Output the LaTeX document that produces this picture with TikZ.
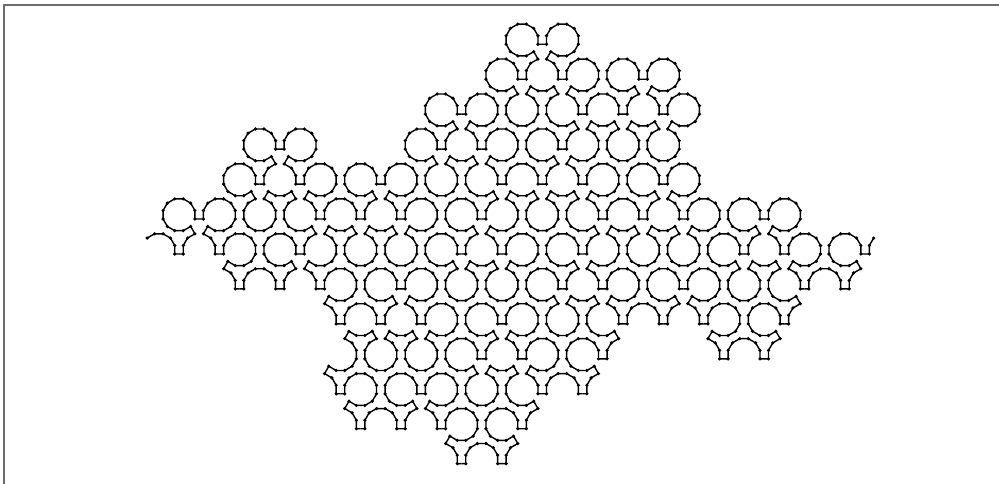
\documentclass[tikz,border=0pt]{standalone}
\newcount\Cq \newcount\Cr \newcount\Cd \newcount\Cn \newcount\Guard
\newif\ifgoon
\makeatletter
% Lattice sites that carry a cusp (row r: q values)
\newcommand\setrow[2]{\@for\tmpq:=#2\do{\expandafter\gdef\csname U:\tmpq:#1\endcsname{}}}
\makeatother
% U: is the bottom cusp at the site; T: are the two arm cusps below the site
\newcommand\Utest[2]{\ifcsname U:\number\numexpr#1\relax:\number\numexpr#2\relax\endcsname 1\else 0\fi}
\newcommand\Ttest[2]{\ifcsname U:\number\numexpr#1\relax:\number\numexpr#2\relax\endcsname 1\else\ifcsname G:\number\numexpr#1\relax:\number\numexpr#2\relax\endcsname 1\else 0\fi\fi}
\expandafter\gdef\csname G:7:9\endcsname{}
\setrow{0}{18}
\setrow{1}{17,19,23}
\setrow{2}{14,20,22,24}
\setrow{3}{5,13,15,19}
\setrow{4}{4,6,10,16,18,20,24}
\setrow{5}{1,7,9,11,15,21,23,25,29}
\setrow{6}{0,2,6,14,16,20,28,30,34}
\setrow{7}{3,5,7,11,19,21,25,31,33}
\setrow{8}{8,10,12,16,22,24,26,30}
\setrow{9}{15,17,21,27,29}
\setrow{10}{8,12,18,20}
\setrow{11}{9,11,13,17}
\setrow{12}{14,16}
\def\edgelen{8.53}
\def\halflen{4.265}
\def\dotr{1.8}
\newcommand\tipxy{%
  \pgfmathsetmacro\tx{179+20.18*\the\Cq+(\the\Cd==1?13.78:(\the\Cd==2?-13.78:0))}%
  \pgfmathsetmacro\ty{484-(254+34.95*(\the\Cr-6))+(\the\Cd==0?0:23.88)}%
}
\newcommand\pickn{%
  \ifcase\Cd
    \ifnum\Ttest{\Cq+1}{\Cr-1}=1 \Cn=2 \else\ifnum\Utest{\Cq+2}{\Cr}=1 \Cn=6 \else \Cn=10 \fi\fi
  \or
    \ifnum\Ttest{\Cq-1}{\Cr-1}=1 \Cn=2 \else\ifnum\Ttest{\Cq}{\Cr-2}=1 \Cn=6 \else \Cn=10 \fi\fi
  \or
    \ifnum\Utest{\Cq}{\Cr}=1 \Cn=2 \else\ifnum\Ttest{\Cq-2}{\Cr}=1 \Cn=6 \else \Cn=10 \fi\fi
  \fi
}
\newcommand\moveon{%
  \ifnum\Cn=2
    \ifnum\Cd=2 \Cd=0 \else \advance\Cd by 1 \fi
  \else\ifnum\Cn=6
    \ifcase\Cd \advance\Cq by 2
    \or \advance\Cq by -1 \advance\Cr by -1
    \or \advance\Cq by -1 \advance\Cr by 1
    \fi
  \else
    \ifcase\Cd \advance\Cq by 1 \advance\Cr by 1 \Cd=2
    \or \advance\Cq by 1 \advance\Cr by -1 \Cd=0
    \or \advance\Cq by -2 \Cd=1
    \fi
  \fi\fi
}
\newcommand\onearc{%
  \tipxy\pickn
  \edef\dd{\number\numexpr\Cd*120\relax}%
  \edef\nn{\number\Cn}%
  \draw[curve] (\tx,\ty) -- ++(\dd:\halflen) coordinate (vs)
     \foreach \j in {0,...,\nn}{ -- ++({\dd+90-30*\j}:\edgelen) coordinate (v\j) }
     -- ++({\dd+180-30*\nn}:\halflen);
  \fill[vertex] (vs) circle[radius=\dotr];
  \foreach \j in {0,...,\nn}{\fill[vertex] (v\j) circle[radius=\dotr];}
  \moveon
  \advance\Guard by 1
  \ifnum\Guard>600 \goonfalse\fi
  \ifnum\Cq=34 \ifnum\Cr=6 \ifnum\Cd=0 \goonfalse\fi\fi\fi
}
\def\walk{\onearc\ifgoon\expandafter\walk\fi}
\begin{document}
\begin{tikzpicture}[x=1pt,y=1pt,line join=round,
  curve/.style={draw=black,line width=1.4pt},
  vertex/.style={fill=black},
  frameline/.style={draw=black!58,line width=1.7pt}]
\useasboundingbox (0,0) rectangle (999,484);
\fill[white] (0,0) rectangle (999,484);
\draw[frameline] (3.7,0) -- (3.7,479.2) -- (999,479.2);
% start of the curve: partial arc leading into the first cusp
\Cq=0 \Cr=6 \Cd=0 \tipxy
\coordinate (startcusp) at (\tx,\ty);
\draw[curve] (startcusp) ++(-\halflen,0) ++(90:\edgelen) ++(120:\edgelen) ++(150:\edgelen) ++(180:\edgelen) ++(210:\edgelen)
   coordinate (p0) -- ++(30:\edgelen) coordinate (p1) -- ++(0:\edgelen) coordinate (p2)
   -- ++(-30:\edgelen) coordinate (p3) -- ++(-60:\edgelen) coordinate (p4)
   -- ++(-90:\edgelen) coordinate (p5) -- (startcusp);
\foreach \p in {p0,p1,p2,p3,p4,p5}{\fill[vertex] (\p) circle[radius=\dotr];}
% the curve, cusp by cusp
\goontrue
\walk
% end of the curve: two edges after the last cusp
\tipxy
\coordinate (endcusp) at (\tx,\ty);
\draw[curve] (endcusp) -- ++(0:\halflen) coordinate (q0) -- ++(90:\edgelen) coordinate (q1) -- ++(60:\edgelen) coordinate (q2);
\foreach \p in {q0,q1,q2}{\fill[vertex] (\p) circle[radius=\dotr];}
\end{tikzpicture}
\end{document}
